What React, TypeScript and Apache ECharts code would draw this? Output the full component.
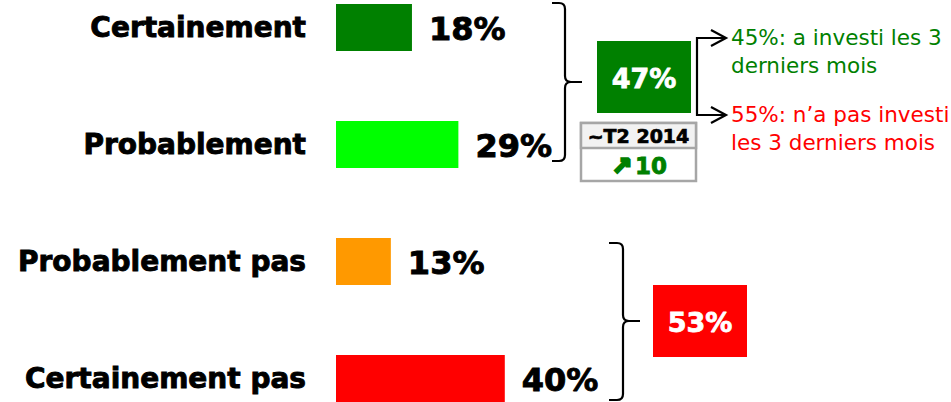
import React, { useEffect, useRef } from "react";
import * as echarts from "echarts";

// ---- Data ----
const categories = ["Certainement", "Probablement", "Probablement pas", "Certainement pas"];
const values = [18, 29, 13, 40];
const barColors = ["#008000", "#00FF00", "#FF9900", "#FF0000"];
const groupTotals = ["47%", "53%"];
const groupColors = ["#008000", "#FF0000"];
const trendHeader = "~T2 2014";
const trendArrow = "↗";
const trendValue = "10";
const detailTexts = ["45%: a investi les 3\nderniers mois", "55%: n’a pas investi\nles 3 derniers mois"];
const detailColors = ["#008000", "#FF0000"];

const FONT = '"DejaVu Sans", Verdana, sans-serif';

function bracePath(x0: number, xv: number, tip: number, top: number, mid: number, bottom: number, r: number) {
  return [
    `M ${x0} ${top}`,
    `L ${xv - r} ${top}`,
    `Q ${xv} ${top} ${xv} ${top + r}`,
    `L ${xv} ${mid - r}`,
    `Q ${xv} ${mid} ${xv + r} ${mid}`,
    `L ${tip} ${mid}`,
    `M ${xv + r} ${mid}`,
    `Q ${xv} ${mid} ${xv} ${mid + r}`,
    `L ${xv} ${bottom - r}`,
    `Q ${xv} ${bottom} ${xv - r} ${bottom}`,
    `L ${x0} ${bottom}`,
  ].join(" ");
}

try {
  echarts.graphic.registerShape("braceTop", echarts.graphic.extendPath(bracePath(552, 565, 582, 3, 82, 161, 6), {}));
  echarts.graphic.registerShape("braceBottom", echarts.graphic.extendPath(bracePath(609, 623, 640, 243, 321, 400, 6), {}));
} catch (e) {
  // ignore
}

export default function App() {
  const ref = useRef<HTMLDivElement>(null);

  useEffect(() => {
    document.body.style.margin = "0";
    if (!ref.current) return;
    const chart = echarts.init(ref.current, undefined, { renderer: "svg" });
    const lineStyle = { fill: "none", stroke: "#000", lineWidth: 2.2 };
    chart.setOption({
      animation: false,
      backgroundColor: "#fff",
      grid: { left: 336, top: 27.5, width: 422, height: 351 },
      xAxis: { type: "value", min: 0, max: 100, show: false },
      yAxis: {
        type: "category",
        data: categories,
        inverse: true,
        boundaryGap: false,
        axisLine: { show: false },
        axisTick: { show: false },
        splitLine: { show: false },
        axisLabel: {
          interval: 0,
          margin: 30,
          fontSize: 28,
          fontWeight: "bold",
          color: "#000",
          fontFamily: FONT,
          textBorderColor: "#000",
          textBorderWidth: 0.9,
        },
      },
      series: [
        {
          type: "bar",
          barWidth: 47,
          data: values.map((v, i) => ({ value: v, itemStyle: { color: barColors[i] } })),
          label: {
            show: true,
            position: "right",
            distance: 17,
            offset: [0, 1],
            formatter: "{c}%",
            fontSize: 32,
            fontWeight: "bold",
            color: "#000",
            fontFamily: FONT,
            textBorderColor: "#000",
            textBorderWidth: 0.9,
          },
        },
      ],
      graphic: [
        { type: "braceTop", style: { ...lineStyle } },
        { type: "braceBottom", style: { ...lineStyle } },
        { type: "rect", shape: { x: 597, y: 41, width: 94, height: 72 }, style: { fill: groupColors[0] } },
        {
          type: "text",
          x: 644,
          y: 78,
          style: { text: groupTotals[0], fill: "#fff", fontSize: 27, fontWeight: "bold", fontFamily: FONT, align: "center", verticalAlign: "middle", stroke: "#fff", lineWidth: 0.8 },
        },
        { type: "rect", shape: { x: 653, y: 285, width: 94, height: 72 }, style: { fill: groupColors[1] } },
        {
          type: "text",
          x: 700,
          y: 322,
          style: { text: groupTotals[1], fill: "#fff", fontSize: 27, fontWeight: "bold", fontFamily: FONT, align: "center", verticalAlign: "middle", stroke: "#fff", lineWidth: 0.8 },
        },
        { type: "rect", shape: { x: 581, y: 123, width: 115, height: 58 }, style: { fill: "#fff", stroke: "#A6A6A6", lineWidth: 2.5 } },
        { type: "rect", shape: { x: 581, y: 123, width: 115, height: 25 }, style: { fill: "#F2F2F2", stroke: "#A6A6A6", lineWidth: 2.5 } },
        {
          type: "text",
          x: 638.5,
          y: 136,
          style: { text: trendHeader, fill: "#000", fontSize: 19, fontWeight: "bold", fontFamily: FONT, align: "center", verticalAlign: "middle", stroke: "#000", lineWidth: 0.7 },
        },
        {
          type: "text",
          x: 622,
          y: 166,
          style: { text: trendArrow, fill: "#008000", fontSize: 24, fontWeight: "bold", fontFamily: FONT, align: "center", verticalAlign: "middle", stroke: "#008000", lineWidth: 2.6 },
        },
        {
          type: "text",
          x: 651,
          y: 166,
          style: { text: trendValue, fill: "#008000", fontSize: 23, fontWeight: "bold", fontFamily: FONT, align: "center", verticalAlign: "middle", stroke: "#008000", lineWidth: 0.8 },
        },
        { type: "polyline", shape: { points: [[725, 38], [697, 38], [697, 115], [725, 115]] }, style: { ...lineStyle } },
        { type: "polyline", shape: { points: [[711, 30], [726, 38], [711, 46]] }, style: { ...lineStyle } },
        { type: "polyline", shape: { points: [[711, 107], [726, 115], [711, 123]] }, style: { ...lineStyle } },
        {
          type: "text",
          x: 731,
          y: 51.5,
          style: { text: detailTexts[0], fill: detailColors[0], fontSize: 21.5, fontFamily: FONT, lineHeight: 28.5, align: "left", verticalAlign: "middle" },
        },
        {
          type: "text",
          x: 731,
          y: 128.5,
          style: { text: detailTexts[1], fill: detailColors[1], fontSize: 21.5, fontFamily: FONT, lineHeight: 28.5, align: "left", verticalAlign: "middle" },
        },
      ],
    });
    return () => chart.dispose();
  }, []);

  return <div ref={ref} style={{ width: 951, height: 402 }} />;
}
